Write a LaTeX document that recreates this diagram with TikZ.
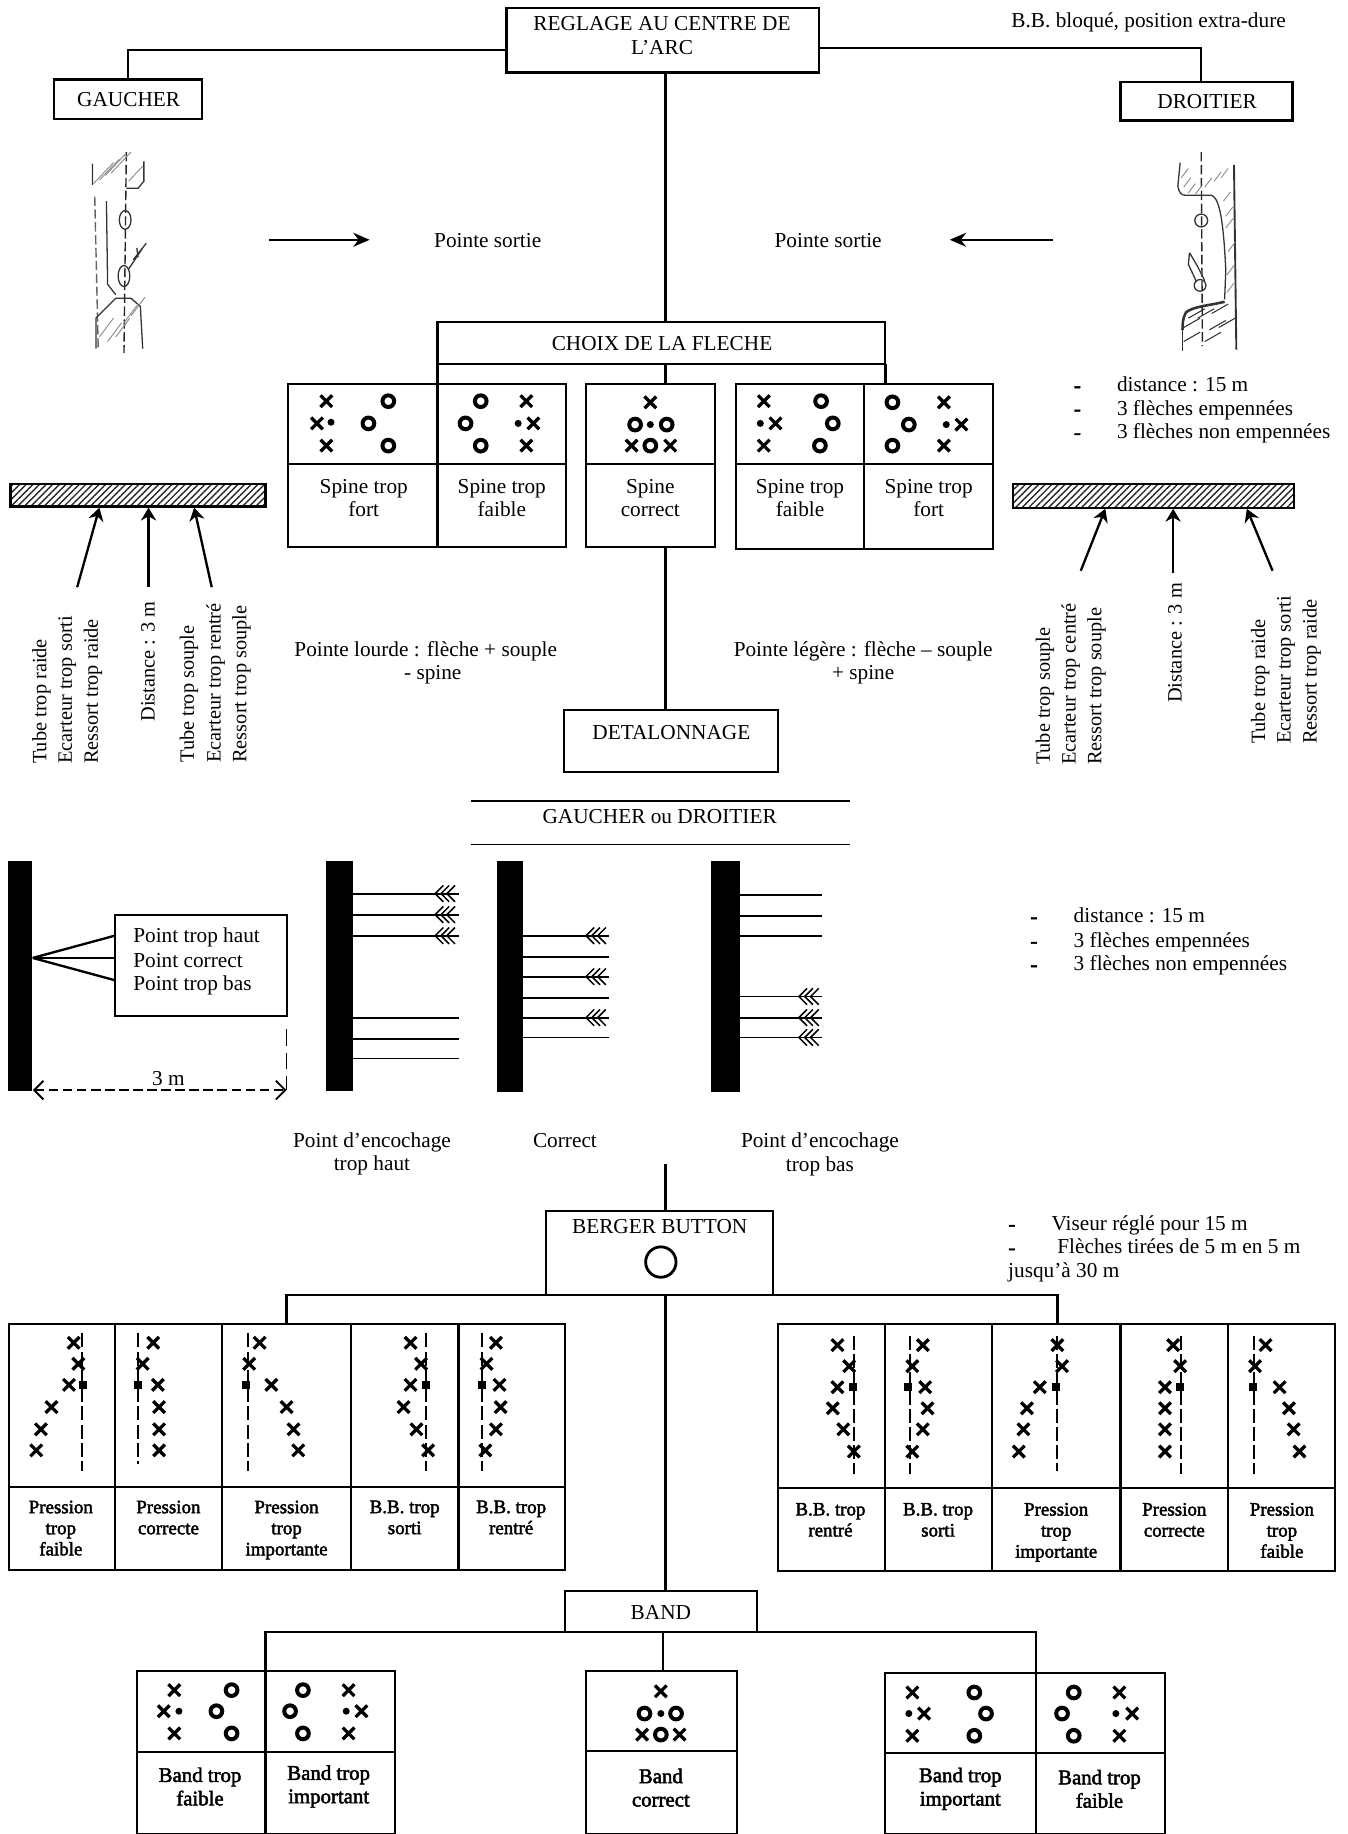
\documentclass[tikz,border=0pt]{standalone}
\usepackage{fontspec}
\setmainfont{Liberation Serif}
\newfontfamily\heavy[FakeBold=2.2]{Liberation Serif}
\usetikzlibrary{arrows.meta,patterns.meta,calc}
\newcounter{tn}
\tikzset{
  cell/.style={draw=black,line width=0.9pt,inner sep=0pt,outer sep=0pt},
  solid bar/.style={fill=black,draw=black,line width=0.3pt},
  hatch bar/.style={pattern={Lines[angle=45,distance=2pt,line width=0.6pt]},pattern color=black!85},
  txt/.style={inner sep=0pt,outer sep=0pt,align=center,font=\fontsize{9.1}{10}\selectfont},
  side/.style={txt,rotate=90,anchor=west,xshift=0.75pt,yshift=-0.75pt,font=\fontsize{8.7}{10}\selectfont},
  leftt/.style={txt,anchor=base west,yshift=-2.2pt},
  dashm/.style={txt,anchor=center,yshift=-1.2pt,font=\heavy\fontsize{9.1}{10}\selectfont},
  lab/.style={txt,anchor=north,yshift=-0.75pt,font=\heavy\fontsize{8.1}{9}\selectfont},
  bandlab/.style={txt,yshift=0.3pt,font=\heavy\fontsize{8.9}{10}\selectfont},
  conn/.style={draw=black,line width=1pt},
  thin conn/.style={draw=black,line width=0.8pt},
  pointer/.style={draw=black,line width=1pt,-{Stealth[length=5.5pt,width=6.5pt]}},
  sarrow/.style={draw=black,line width=0.9pt,-{Stealth[length=7pt,width=6pt]}},
  markx/.style={draw=black,line width=1.4pt},
  marko/.style={draw=black,line width=1.7pt},
  aim/.style={draw=black,line width=0.95pt,dash pattern=on 6pt off 1.8pt},
  fl/.style={draw=black,line width=0.65pt},
  sk/.style={draw=black!80,line width=0.55pt},
  skl/.style={draw=black!45,line width=0.4pt},
  skd/.style={draw=black!85,line width=0.6pt,dash pattern=on 4pt off 1.5pt},
}
\newcommand\Cell[6][]{%
  \pgfmathsetmacro\cw{(#5-#3)*0.5}\pgfmathsetmacro\ch{(#6-#4)*0.5}%
  \node[cell,#1,minimum width=\cw pt,minimum height=\ch pt] (#2) at ({(#3+#5)/2},{(#4+#6)/2}) {};}
\newcommand\Tx[4][]{\stepcounter{tn}\node[txt,#1] (t\arabic{tn}) at (#2,#3+1.5) {#4};}
\newcommand\Xs[1]{\foreach \a/\b in {#1}{\draw[markx] (\a-5,\b-5) -- (\a+5,\b+5) (\a-5,\b+5) -- (\a+5,\b-5);}}
\newcommand\Os[1]{\foreach \a/\b in {#1}{\draw[marko] (\a,\b) circle[radius=5];}}
\newcommand\Ds[1]{\foreach \a/\b in {#1}{\fill (\a,\b) circle[radius=3];}}
\newcommand\Sq[2]{\fill (#1-3.5,#2-3.5) rectangle (#1+3.5,#2+3.5);}
\newcommand\Aim[3]{\draw[aim] (#1,#2) -- (#1,#3);}
\newcommand\Shaft[3]{\coordinate (se) at (#3,#2); \draw[thin conn] (#1.east |- se) -- (se);}
\newcommand\Fle[2]{\foreach \d in {20,15,10}{\draw[fl] (#1-\d+7,#2-7) -- (#1-\d,#2) -- (#1-\d+7,#2+7);}}
\begin{document}
\begin{tikzpicture}[x=0.5pt,y=-0.5pt]
\useasboundingbox (0,0) rectangle (1152,1568);
% top
\Cell{top}{433}{7}{700}{62}
\Tx{566}{29}{REGLAGE AU CENTRE DE\\L’ARC}
\Tx{982}{18}{B.B. bloqué, position extra-dure}
\Cell{gaucher}{46}{68}{173}{102}
\Tx{110}{84}{GAUCHER}
\Cell{droitier}{958}{70}{1105}{103}
\Tx{1032}{85}{DROITIER}
\coordinate (topL) at (433,43);
\coordinate (topR) at (700,41);
\coordinate (drT) at (1027,70);
\coordinate (topB) at (569,62);
\draw[conn] (topL) -| (gaucher.north);
\draw[conn] (topR) -| (drT);
% left sketch
\draw[skd] (108,130) -- (106,302);
\draw[sk] (107,188) ellipse[x radius=5,y radius=8];
\draw[sk] (106,236) ellipse[x radius=5,y radius=9];
\draw[sk] (79,140) -- (79,158) (123,138) -- (123,155) -- (118,161) -- (108,161);
\draw[skd,draw=black!60] (81,168) -- (84,299);
\draw[sk] (91,172) -- (92,243) -- (99,252);
\draw[sk] (82,298) -- (82,272) -- (99,255) -- (112,255) -- (120,262) -- (122,298);
\draw[sk] (110,230) -- (122,212) (114,222) -- (125,208) (117,212) -- (118,220);
\foreach \a/\b in {80/157,85/154,90/150,95/148}{\draw[skl] (\a,\b) -- (\a+17,\b-18);}
\foreach \a/\b in {85/288,92/292,99/288,106/276,112/270}{\draw[skl] (\a,\b) -- (\a+12,\b-16);}
\draw[skl] (110,155) -- (122,142);
% right sketch
\draw[skd] (1027,130) -- (1028,296);
\draw[sk,line width=0.8pt] (1055,141) -- (1057,299);
\draw[sk] (1009,139) -- (1007,159) .. controls (1008,165) and (1010,167) .. (1014,167) -- (1036,167) .. controls (1043,170) and (1046,190) .. (1048,231) -- (1047,256);
\draw[sk,line width=1.1pt] (1047,258) .. controls (1035,261) and (1020,262) .. (1014,267) .. controls (1011,272) and (1011,278) .. (1011,282);
\draw[sk] (1011,282) -- (1011,300);
\draw[sk] (1027,188.5) circle[radius=5.5];
\draw[sk] (1026,244) circle[radius=5];
\draw[sk] (1017,216) -- (1016,226) -- (1023,241) (1017,216) -- (1024,228) -- (1030,240);
\foreach \a/\b in {1010/152,1012/160,1016/165,1022/166,1030/160,1038/155,1044/152,1046/172,1048/185,1048/195,1050/215,1049/235,1049/250}{\draw[skl] (\a,\b) -- (\a+6,\b-8);}
\foreach \a/\b in {1012/280,1012/292,1024/272,1030/292,1036/268,1042/280,1016/272,1034/282}{\draw[sk,line width=0.45pt] (\a,\b) -- (\a+14,\b-8);}
% pointe sortie
\coordinate (a1s) at (230,205); \coordinate (a1e) at (316,205);
\coordinate (a2s) at (900,205); \coordinate (a2e) at (812,205);
\draw[sarrow] (a1s) -- (a1e);
\draw[sarrow] (a2s) -- (a2e);
\Tx{417}{204}{Pointe sortie}
\Tx{708}{204}{Pointe sortie}
% choix
\Cell{choix}{374}{275}{757}{311}
\Tx{566}{292}{CHOIX DE LA FLECHE}
\coordinate (choixT) at (569,275);
\coordinate (choixB) at (569,311);
\draw[conn] (topB) -- (choixT);
\Cell{s1a}{246}{328}{374}{397}\Cell{s1b}{246}{397}{374}{468}
\Cell{s2a}{374}{328}{484}{397}\Cell{s2b}{374}{397}{484}{468}
\Cell{s3a}{501}{328}{611}{397}\Cell{s3b}{501}{397}{611}{468}
\Cell{s4a}{629}{328}{739}{397}\Cell{s4b}{629}{397}{739}{469}
\Cell{s5a}{739}{328}{849}{397}\Cell{s5b}{739}{397}{849}{469}
\draw[conn] (choix.south west) -- (s1a.north east);
\draw[conn] (choixB) -- (s3a.north -| choixB);
\draw[conn] (choix.south east) -- (choix.south east |- s5a.north);
\Xs{279/343,271/362,279/381}\Os{332/343,315/362,332/381}\Ds{283/361}
\Os{411/343,398/362,411/381}\Xs{450/343,456/362,450/381}\Ds{443/362}
\Xs{556/344,540/381,573/381}\Os{543/363,570/363,556/381}\Ds{556/363}
\Xs{653/343,663/362,653/381}\Os{702/343,712/362,701/381}\Ds{650/362}
\Os{763/344,777/363,763/381}\Xs{807/344,822/363,807/381}\Ds{809/363}
\Tx{311}{424.5}{Spine trop\\fort}
\Tx{429}{424.5}{Spine trop\\faible}
\Tx{556}{424.5}{Spine\\correct}
\Tx{684}{424.5}{Spine trop\\faible}
\Tx{794}{424.5}{Spine trop\\fort}
% right list
\Tx[dashm]{921}{329}{-}\Tx[dashm]{921}{349}{-}\Tx[dashm]{921}{369}{-}
\Tx[leftt]{955}{329}{distance : 15 m}
\Tx[leftt]{955}{349}{3 flèches empennées}
\Tx[leftt]{955}{369}{3 flèches non empennées}
% hatched targets
\Cell[hatch bar]{hl}{9}{414}{227}{433}
\Cell[hatch bar]{hr}{866}{414}{1106}{434}
\coordinate (l1) at (66,502);\coordinate (l1e) at (85,434);
\coordinate (l2) at (127,502);\coordinate (l2e) at (127,434);
\coordinate (l3) at (181,502);\coordinate (l3e) at (166,434);
\coordinate (r1) at (924,488);\coordinate (r1e) at (945,435);
\coordinate (r2) at (1003,490);\coordinate (r2e) at (1003,435);
\coordinate (r3) at (1088,488);\coordinate (r3e) at (1066,435);
\foreach \p in {l1,l2,l3,r1,r2,r3}{\draw[pointer] (\p) -- (\p e);}
\Tx[side]{34}{653}{Tube trop raide}
\Tx[side]{56}{653}{Ecarteur trop sorti}
\Tx[side]{78}{653}{Ressort trop raide}
\Tx[side]{125}{617}{Distance : 3 m}
\Tx[side]{160}{652}{Tube trop souple}
\Tx[side]{183}{652}{Ecarteur trop rentré}
\Tx[side]{205}{652}{Ressort trop souple}
\Tx[side]{892}{654}{Tube trop souple}
\Tx[side]{914}{654}{Ecarteur trop centré}
\Tx[side]{936}{654}{Ressort trop souple}
\Tx[side]{1003}{601}{Distance : 3 m}
\Tx[side]{1076}{636}{Tube trop raide}
\Tx[side]{1098}{636}{Ecarteur trop sorti}
\Tx[side]{1120}{636}{Ressort trop raide}
\Tx{364}{565}{Pointe lourde : flèche + souple\\\hspace*{6pt}- spine}
\Tx{738}{565}{Pointe légère : flèche – souple\\+ spine}
% detalonnage
\Cell{det}{482}{607}{665}{660}
\Tx{574}{625}{DETALONNAGE}
\coordinate (s3bot) at (569,468);
\coordinate (detT) at (569,607);
\draw[conn] (s3bot) -- (detT);
\coordinate (ru1a) at (403,685);\coordinate (ru1b) at (727,685);
\coordinate (ru2a) at (403,722);\coordinate (ru2b) at (727,722);
\draw[thin conn] (ru1a) -- (ru1b);
\draw[thin conn] (ru2a) -- (ru2b);
\Tx{564}{697}{GAUCHER ou DROITIER}
% bars
\Cell[solid bar]{b1}{7}{736}{27}{932}
\Cell[solid bar]{b2}{279}{736}{301}{932}
\Cell[solid bar]{b3}{425}{736}{447}{933}
\Cell[solid bar]{b4}{608}{736}{632}{933}
\Cell[line width=0.9pt]{pt}{98}{782}{245}{869}
\Tx[leftt]{114}{800}{Point trop haut}
\Tx[leftt]{114}{821}{Point correct}
\Tx[leftt]{114}{841}{Point trop bas}
\coordinate (apex) at (28,819);
\coordinate (p1) at (98,800);\coordinate (p2) at (98,819);\coordinate (p3) at (98,838);
\draw[conn] (apex) -- (p1);\draw[thin conn] (apex) -- (p2);\draw[conn] (apex) -- (p3);
\coordinate (dimA) at (28,932);\coordinate (dimB) at (245,932);\coordinate (dimT) at (245,880);
\draw[thin conn,dash pattern=on 7pt off 3pt,line width=0.6pt] (dimT) -- (dimB);
\draw[thin conn,dash pattern=on 4pt off 2pt,{Straight Barb[length=4pt,width=8pt]}-{Straight Barb[length=4pt,width=8pt]}] (dimA) -- (dimB);
\Tx{144}{921}{3 m}
\foreach \y in {764,782,800,870,888,905}{\Shaft{b2}{\y}{392}}
\foreach \y in {764,782,800}{\Fle{392}{\y}}
\foreach \y in {800,818,835,853,870,887}{\Shaft{b3}{\y}{521}}
\foreach \y in {800,835,870}{\Fle{521}{\y}}
\foreach \y in {765,783,800,852,870,887}{\Shaft{b4}{\y}{703}}
\foreach \y in {852,870,887}{\Fle{703}{\y}}
\Tx[dashm]{884}{783}{-}\Tx[dashm]{884}{804}{-}\Tx[dashm]{884}{824}{-}
\Tx[leftt]{918}{783}{distance : 15 m}
\Tx[leftt]{918}{804}{3 flèches empennées}
\Tx[leftt]{918}{824}{3 flèches non empennées}
\Tx{318}{985}{Point d’encochage\\trop haut}
\Tx{483}{974}{Correct}
\Tx{701}{985.5}{Point d’encochage\\trop bas}
% berger
\Cell{bb}{467}{1035}{661}{1107}
\Tx{564}{1047}{BERGER BUTTON}
\Cell{bband}{483}{1360}{647}{1395}
\Tx{565}{1377}{BAND}
\draw[line width=1.2pt] (565,1079) circle[radius=13];
\coordinate (bbin) at (569,995);\coordinate (bbT) at (569,1035);\coordinate (bbB) at (569,1107);\coordinate (bandT) at (569,1360);
\draw[conn] (bbin) -- (bbT);
\draw[conn] (bbB) -- (bandT);
\coordinate (bL) at (245,1132);\coordinate (bR) at (904,1132);
\draw[conn] (bbB) -| (bL);
\draw[conn] (bbB) -| (bR);
\Tx[dashm]{865}{1046}{-}\Tx[dashm]{865}{1066}{-}
\Tx[leftt]{899}{1046}{Viseur réglé pour 15 m}
\Tx[leftt]{904}{1066}{Flèches tirées de 5 m en 5 m}
\Tx[leftt]{862}{1086}{jusqu’à 30 m}
% left row
\Cell{la1}{8}{1132}{98}{1271}\Cell{lb1}{8}{1271}{98}{1342}
\Cell{la2}{98}{1132}{190}{1271}\Cell{lb2}{98}{1271}{190}{1342}
\Cell{la3}{190}{1132}{300}{1271}\Cell{lb3}{190}{1271}{300}{1342}
\Cell{la4}{300}{1132}{392}{1271}\Cell{lb4}{300}{1271}{392}{1342}
\Cell{la5}{392}{1132}{483}{1271}\Cell{lb5}{392}{1271}{483}{1342}
\Aim{70}{1140}{1258}\Sq{71}{1184}\Xs{63/1148,67/1166,59/1184,44/1203,35/1222,31/1240}
\Aim{118}{1140}{1252}\Sq{118}{1184}\Xs{131/1148,122/1166,135/1184,136/1203,136/1222,136/1240}
\Aim{212}{1140}{1258}\Sq{210}{1184}\Xs{222/1148,213/1166,232/1184,245/1203,251/1222,255/1240}
\Aim{364}{1140}{1258}\Sq{364}{1184}\Xs{351/1148,360/1166,351/1184,345/1203,356/1222,366/1240}
\Aim{412}{1140}{1258}\Sq{412}{1184}\Xs{424/1148,416/1166,427/1184,428/1203,424/1222,415/1240}
\Tx[lab]{52}{1280}{Pression\\trop\\faible}
\Tx[lab]{144}{1280}{Pression\\correcte}
\Tx[lab]{245}{1280}{Pression\\trop\\importante}
\Tx[lab]{346}{1280}{B.B. trop\\sorti}
\Tx[lab]{437}{1280}{B.B. trop\\rentré}
% right row
\Cell{ra1}{665}{1132}{757}{1272}\Cell{rb1}{665}{1272}{757}{1343}
\Cell{ra2}{757}{1132}{848}{1272}\Cell{rb2}{757}{1272}{848}{1343}
\Cell{ra3}{848}{1132}{958}{1272}\Cell{rb3}{848}{1272}{958}{1343}
\Cell{ra4}{958}{1132}{1050}{1272}\Cell{rb4}{958}{1272}{1050}{1343}
\Cell{ra5}{1050}{1132}{1141}{1272}\Cell{rb5}{1050}{1272}{1141}{1343}
\Aim{730}{1142}{1260}\Sq{729}{1186}\Xs{716/1150,726/1168,716/1186,712/1204,721/1222,730/1241}
\Aim{778}{1142}{1260}\Sq{776}{1186}\Xs{789/1150,780/1168,791/1186,793/1204,789/1222,780/1241}
\Aim{904}{1142}{1258}\Sq{903}{1186}\Xs{904/1150,908/1168,889/1186,878/1204,875/1222,871/1241}
\Aim{1010}{1142}{1260}\Sq{1009}{1186}\Xs{1003/1150,1009/1168,996/1186,996/1204,996/1222,996/1241}
\Aim{1072}{1142}{1260}\Sq{1071}{1186}\Xs{1082/1150,1073/1168,1094/1186,1102/1204,1106/1222,1111/1241}
\Tx[lab]{710}{1282}{B.B. trop\\rentré}
\Tx[lab]{802}{1282}{B.B. trop\\sorti}
\Tx[lab]{903}{1282}{Pression\\trop\\importante}
\Tx[lab]{1004}{1282}{Pression\\correcte}
\Tx[lab]{1096}{1282}{Pression\\trop\\faible}
% band
\Cell{n1a}{117}{1429}{227}{1498}\Cell{n1b}{117}{1498}{227}{1568}
\Cell{n2a}{227}{1429}{338}{1498}\Cell{n2b}{227}{1498}{338}{1568}
\Cell{n3a}{501}{1429}{630}{1497}\Cell{n3b}{501}{1497}{630}{1568}
\Cell{n4a}{757}{1430}{886}{1499}\Cell{n4b}{757}{1499}{886}{1568}
\Cell{n5a}{886}{1430}{996}{1499}\Cell{n5b}{886}{1499}{996}{1568}
\coordinate (bandB) at (567,1395);
\draw[conn] (bandB) -| (n1a.north east);
\draw[conn] (bandB) -| (n4a.north east);
\draw[conn] (bandB) -- (bandB |- n3a.north);
\Xs{149/1445,140/1463,149/1482}\Os{198/1445,185/1463,198/1482}\Ds{153/1463}
\Os{259/1445,248/1463,259/1482}\Xs{298/1445,309/1463,298/1482}\Ds{296/1463}
\Xs{565/1446,549/1483,581/1483}\Os{551/1465,578/1465,565/1483}\Ds{565/1465}
\Xs{780/1447,790/1465,780/1484}\Os{833/1447,843/1465,833/1484}\Ds{777/1465}
\Os{918/1447,908/1465,918/1484}\Xs{957/1447,968/1465,957/1484}\Ds{954/1465}
\Tx[bandlab]{171}{1526.5}{Band trop\\faible}
\Tx[bandlab]{281}{1526.5}{Band trop\\important}
\Tx[bandlab]{565}{1527.5}{Band\\correct}
\Tx[bandlab]{821}{1528.5}{Band trop\\important}
\Tx[bandlab]{940}{1528.5}{Band trop\\faible}
\end{tikzpicture}
\end{document}
